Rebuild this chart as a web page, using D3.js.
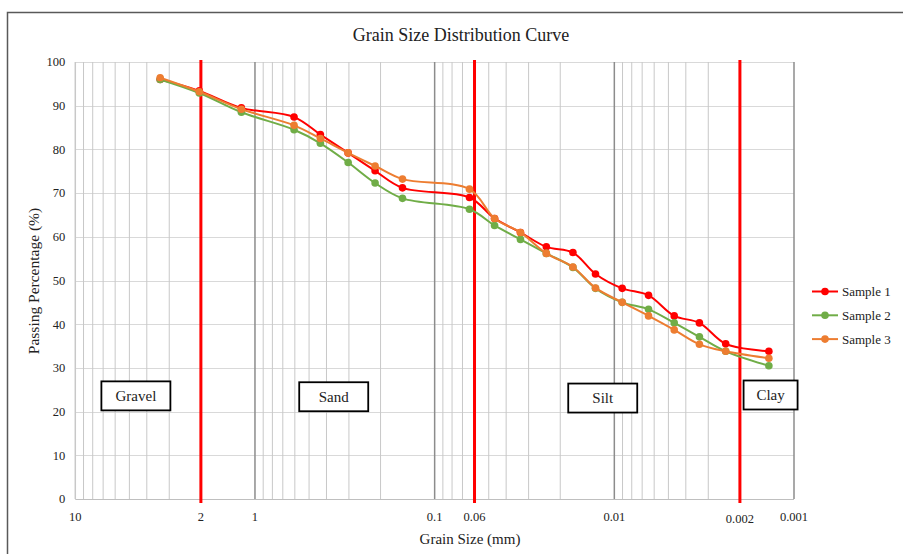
<!DOCTYPE html>
<html>
<head>
<meta charset="utf-8">
<script src="https://cdn.jsdelivr.net/npm/d3@7"></script>
<style>
    body { margin: 0; background: #fff; }
    svg text { font-family: "Liberation Serif", "Times New Roman", serif; fill: #222; }
</style>
</head>
<body>
<div id="chart"></div>
<script>
'use strict';

// grain sizes (mm) shared by all three samples
const grainSizes = [3.37, 2.04, 1.19, 0.606, 0.4325, 0.303, 0.2145, 0.151, 0.064,
    0.0464, 0.0333, 0.0239, 0.017, 0.01273, 0.00904, 0.00645, 0.00464, 0.00336, 0.0024, 0.00138];

const sample1 = [96.0, 93.4, 89.5, 87.4, 83.4, 79.2, 75.1, 71.2, 69.0,
    64.2, 61.0, 57.7, 56.4, 51.5, 48.2, 46.6, 41.9, 40.3, 35.5, 33.8];
const sample2 = [96.0, 92.9, 88.5, 84.5, 81.4, 77.0, 72.3, 68.8, 66.3,
    62.6, 59.4, 56.2, 53.0, 48.2, 45.0, 43.4, 40.3, 37.1, 33.8, 30.5];
const sample3 = [96.4, 93.2, 89.2, 85.5, 82.5, 79.2, 76.2, 73.2, 70.9,
    64.2, 61.0, 56.2, 53.1, 48.3, 45.0, 41.9, 38.7, 35.4, 33.8, 32.2];

const seriesNames = ['Sample 1', 'Sample 2', 'Sample 3'];
const seriesColours = ['#ff0000', '#70ad47', '#ed7d31'];

const xTickValues = [10, 2, 1, 0.1, 0.06, 0.01, 0.002, 0.001];
const yTickValues = [0, 10, 20, 30, 40, 50, 60, 70, 80, 90, 100];

// boundaries between gravel / sand / silt / clay
const boundaries = [2, 0.06, 0.002];

// zone labels: name, centre size (mm), centre percent, box width
const zoneNames = ['Gravel', 'Sand', 'Silt', 'Clay'];
const zoneSizes = [4.6, 0.3645, 0.0116, 0.00135];
const zonePercents = [23.6, 23.4, 23.1, 23.8];
const zoneWidths = [69, 69, 69, 54];

const width = 903;
const height = 554;
const margin = { left: 75.3, right: 109, top: 62, bottom: 55 };
const chartWidth = width - margin.left - margin.right;
const chartHeight = height - margin.top - margin.bottom;

const svg = d3.select('#chart')
    .append('svg')
    .attr('width', width)
    .attr('height', height);

// outer frame of the chart
svg.append('rect')
    .attr('x', 7.5)
    .attr('y', 12.5)
    .attr('width', 960)
    .attr('height', 600)
    .attr('fill', 'none')
    .attr('stroke', '#595959')
    .attr('stroke-width', 1.5);

const chart = svg.append('g')
    .attr('transform', `translate(${margin.left},${margin.top})`);

// log scale, coarse grains on the left
const xScale = d3.scaleLog()
    .domain([10, 0.001])
    .range([0, chartWidth]);

const yScale = d3.scaleLinear()
    .domain([0, 100])
    .range([chartHeight, 0]);

// horizontal gridlines
chart.append('g')
    .selectAll('line')
    .data(yTickValues)
    .join('line')
    .attr('x1', 0)
    .attr('x2', chartWidth)
    .attr('y1', function (d) { return Math.round(yScale(d)) + 0.5; })
    .attr('y2', function (d) { return Math.round(yScale(d)) + 0.5; })
    .attr('stroke', function (d) { return d === 0 ? '#bfbfbf' : '#d9d9d9'; })
    .attr('stroke-width', 1);

// vertical gridlines: minor ones for 2..9 in every decade, major ones on the decades
const minorValues = [];
[1, 0.1, 0.01, 0.001].forEach(function (decade) {
    for (let k = 2; k <= 9; k++) {
        minorValues.push(decade * k);
    }
});
const majorValues = [10, 1, 0.1, 0.01, 0.001];

chart.append('g')
    .selectAll('line')
    .data(minorValues)
    .join('line')
    .attr('x1', function (d) { return xScale(d); })
    .attr('x2', function (d) { return xScale(d); })
    .attr('y1', 0)
    .attr('y2', chartHeight)
    .attr('stroke', '#c8c8c8')
    .attr('stroke-width', 1);

chart.append('g')
    .selectAll('line')
    .data(majorValues)
    .join('line')
    .attr('x1', function (d) { return xScale(d); })
    .attr('x2', function (d) { return xScale(d); })
    .attr('y1', 0)
    .attr('y2', chartHeight)
    .attr('stroke', function (d) { return d === 10 ? '#c8c8c8' : '#8c8c8c'; })
    .attr('stroke-width', 1.5);

// red boundary lines
chart.append('g')
    .selectAll('line')
    .data(boundaries)
    .join('line')
    .attr('x1', function (d) { return xScale(d); })
    .attr('x2', function (d) { return xScale(d); })
    .attr('y1', -2)
    .attr('y2', chartHeight + 4)
    .attr('stroke', '#ff0000')
    .attr('stroke-width', 3);

// tick labels
chart.append('g')
    .selectAll('text')
    .data(yTickValues)
    .join('text')
    .attr('x', -10)
    .attr('y', function (d) { return yScale(d); })
    .attr('dy', '0.35em')
    .attr('text-anchor', 'end')
    .attr('font-size', 12.5)
    .text(function (d) { return d; });

chart.append('g')
    .selectAll('text')
    .data(xTickValues)
    .join('text')
    .attr('x', function (d) { return xScale(d); })
    .attr('y', function (d) { return chartHeight + (d === 0.002 ? 24 : 22); })
    .attr('text-anchor', 'middle')
    .attr('font-size', 12.5)
    .text(function (d) { return d; });

// axis titles
svg.append('text')
    .attr('x', 470)
    .attr('y', 544)
    .attr('text-anchor', 'middle')
    .attr('font-size', 15)
    .text('Grain Size (mm)');

svg.append('text')
    .attr('transform', 'rotate(-90)')
    .attr('x', -281)
    .attr('y', 39)
    .attr('text-anchor', 'middle')
    .attr('font-size', 15.5)
    .text('Passing Percentage (%)');

svg.append('text')
    .attr('x', 461)
    .attr('y', 41)
    .attr('text-anchor', 'middle')
    .attr('font-size', 18)
    .text('Grain Size Distribution Curve');

// zone label boxes
const zones = zoneNames.map(function (name, i) {
    return { name: name, size: zoneSizes[i], percent: zonePercents[i], boxWidth: zoneWidths[i] };
});

const zoneGroups = chart.append('g')
    .selectAll('g')
    .data(zones)
    .join('g')
    .attr('transform', function (d) {
        return `translate(${xScale(d.size)},${yScale(d.percent)})`;
    });

zoneGroups.append('rect')
    .attr('x', function (d) { return -d.boxWidth / 2; })
    .attr('y', -14.5)
    .attr('width', function (d) { return d.boxWidth; })
    .attr('height', 29)
    .attr('fill', '#fff')
    .attr('stroke', '#000')
    .attr('stroke-width', 1.8);

zoneGroups.append('text')
    .attr('text-anchor', 'middle')
    .attr('dy', '0.33em')
    .attr('font-size', 15)
    .text(function (d) { return d.name; });

// series
const series = [sample1, sample2, sample3].map(function (values, i) {
    return {
        name: seriesNames[i],
        colour: seriesColours[i],
        values: values.map(function (v, j) {
            return { size: grainSizes[j], value: v };
        })
    };
});

const lineGen = d3.line()
    .x(function (d) { return xScale(d.size); })
    .y(function (d) { return yScale(d.value); })
    .curve(d3.curveCatmullRom.alpha(0.5));

const seriesGroups = chart.append('g')
    .selectAll('g')
    .data(series)
    .join('g');

seriesGroups.append('path')
    .attr('fill', 'none')
    .attr('stroke', function (d) { return d.colour; })
    .attr('stroke-width', 2)
    .attr('d', function (d) { return lineGen(d.values); });

seriesGroups.selectAll('circle')
    .data(function (d) {
        return d.values.map(function (p) {
            return { size: p.size, value: p.value, colour: d.colour };
        });
    })
    .join('circle')
    .attr('cx', function (d) { return xScale(d.size); })
    .attr('cy', function (d) { return yScale(d.value); })
    .attr('r', 3.8)
    .attr('fill', function (d) { return d.colour; });

// legend
const legend = svg.append('g')
    .attr('transform', 'translate(812,291.5)');

const legendItems = legend.selectAll('g')
    .data(series)
    .join('g')
    .attr('transform', function (d, i) { return `translate(0,${i * 23.8})`; });

legendItems.append('line')
    .attr('x1', 0)
    .attr('x2', 26)
    .attr('stroke', function (d) { return d.colour; })
    .attr('stroke-width', 2);

legendItems.append('circle')
    .attr('cx', 13)
    .attr('r', 3.8)
    .attr('fill', function (d) { return d.colour; });

legendItems.append('text')
    .attr('x', 30)
    .attr('dy', '0.35em')
    .attr('font-size', 13)
    .text(function (d) { return d.name; });
</script>
</body>
</html>
